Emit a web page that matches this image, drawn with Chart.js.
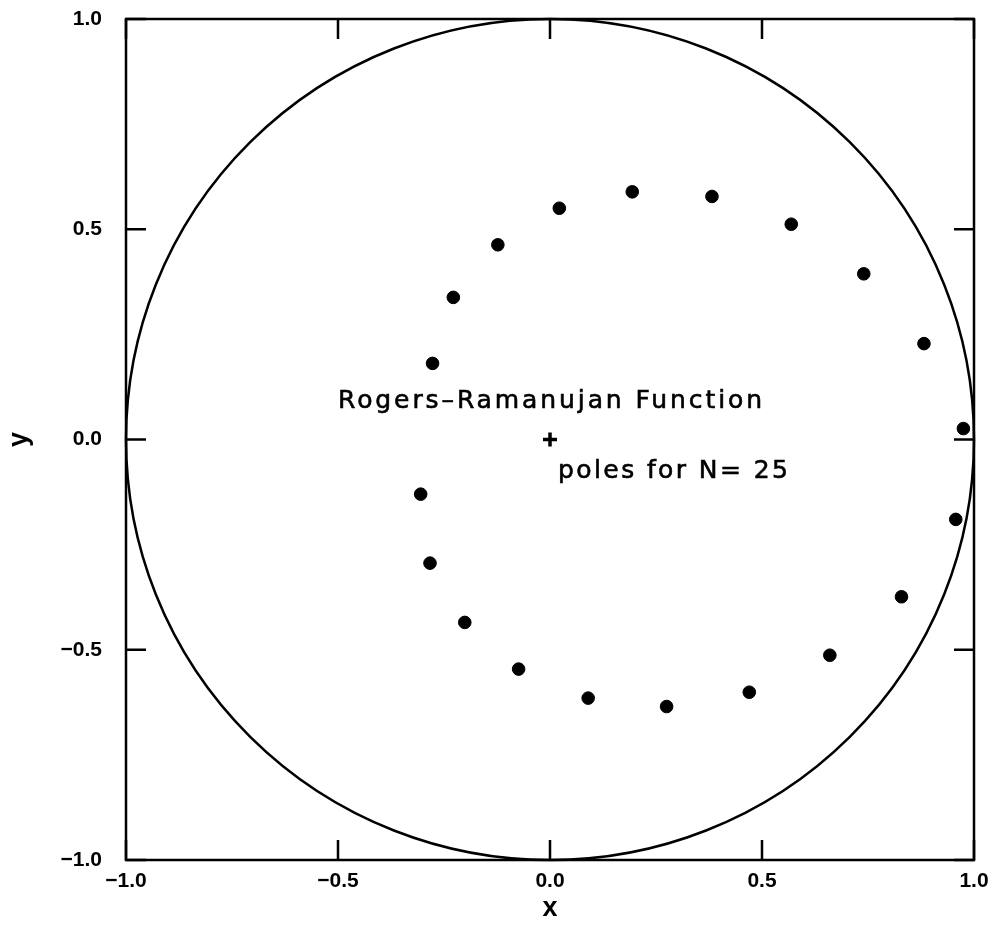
<!DOCTYPE html>
<html lang="en">
<head>
  <meta charset="UTF-8">
  <title>Rogers-Ramanujan Function poles</title>
  <script src="https://cdn.jsdelivr.net/npm/chart.js"></script>
  <style>
    body {
      margin: 0;
      background: #fff;
    }
    .chart-box {
      width: 993px;
      height: 925px;
    }
  </style>
</head>
<body>
  <div class="chart-box"><canvas id="polesChart"></canvas></div>

  <script>
    const poleX = [-0.277, -0.228, -0.123, 0.022, 0.194, 0.382, 0.569, 0.740, 0.882, 0.975,
                   0.957, 0.829, 0.660, 0.470, 0.275, 0.090, -0.074, -0.201, -0.283, -0.305];
    const poleY = [0.181, 0.338, 0.463, 0.550, 0.589, 0.578, 0.512, 0.394, 0.228, 0.026,
                   -0.190, -0.374, -0.513, -0.601, -0.635, -0.615, -0.546, -0.435, -0.294, -0.130];
    const originMark = [{ x: 0, y: 0 }];
    const circleCenter = [0, 0];
    const circleRadius = 1;
    const tickValues = [-1.0, -0.5, 0.0, 0.5, 1.0];
    const noteTexts = ['Rogers\u2013Ramanujan Function', 'poles for N= 25'];

    // where the two notes sit, in data units: left x, baseline y, width
    const notes = [
      { text: noteTexts[0], x: -0.5, y: 0.075, w: 1.0 },
      { text: noteTexts[1], x: 0.019, y: -0.092, w: 0.542 }
    ];

    const tickFont = { family: 'Liberation Sans', size: 21, weight: 'bold' };
    const titleFont = { family: 'Liberation Sans', size: 27, weight: 'bold' };

    const frameAndNotes = {
      id: 'frameAndNotes',
      beforeDatasetsDraw(chart) {
        const { ctx, chartArea: a, scales: { x, y } } = chart;
        ctx.save();
        ctx.strokeStyle = '#000';

        // unit circle
        const cx = x.getPixelForValue(circleCenter[0]);
        const cy = y.getPixelForValue(circleCenter[1]);
        const rx = x.getPixelForValue(circleCenter[0] + circleRadius) - cx;
        const ry = cy - y.getPixelForValue(circleCenter[1] + circleRadius);
        ctx.lineWidth = 2.5;
        ctx.beginPath();
        ctx.ellipse(cx, cy, rx, ry, 0, 0, 2 * Math.PI);
        ctx.stroke();

        // frame
        ctx.strokeRect(a.left, a.top, a.right - a.left, a.bottom - a.top);

        // inward ticks on all four sides
        const len = 20;
        ctx.beginPath();
        x.ticks.forEach(t => {
          const px = x.getPixelForValue(t.value);
          ctx.moveTo(px, a.bottom); ctx.lineTo(px, a.bottom - len);
          ctx.moveTo(px, a.top); ctx.lineTo(px, a.top + len);
        });
        y.ticks.forEach(t => {
          const py = y.getPixelForValue(t.value);
          ctx.moveTo(a.left, py); ctx.lineTo(a.left + len, py);
          ctx.moveTo(a.right, py); ctx.lineTo(a.right - len, py);
        });
        ctx.stroke();

        // text notes, spread to the width seen in the picture
        ctx.fillStyle = '#000';
        ctx.lineWidth = 0.6;
        ctx.font = '25px "DejaVu Sans"';
        ctx.textBaseline = 'alphabetic';
        ctx.textAlign = 'left';
        notes.forEach(n => {
          const left = x.getPixelForValue(n.x);
          const target = x.getPixelForValue(n.x + n.w) - left;
          ctx.letterSpacing = '0px';
          const plain = ctx.measureText(n.text).width;
          const gap = Math.max(0, (target - plain) / (n.text.length - 1));
          ctx.letterSpacing = gap.toFixed(2) + 'px';
          const base = y.getPixelForValue(n.y);
          ctx.fillText(n.text, left, base);
          ctx.strokeText(n.text, left, base);
        });
        ctx.restore();
      }
    };

    const fitWidth = w => scale => { scale.width = w; };
    const fitHeight = h => scale => { scale.height = h; };
    const tickLabel = v => (v < 0 ? '\u2212' : '') + Math.abs(v).toFixed(1);
    const useTicks = s => { s.ticks = tickValues.map(v => ({ value: v })); };

    new Chart(document.getElementById('polesChart'), {
      type: 'scatter',
      data: {
        datasets: [
          {
            label: 'poles',
            data: poleX.map((v, i) => ({ x: v, y: poleY[i] })),
            backgroundColor: '#000',
            borderColor: '#000',
            pointRadius: 6.3,
            pointHoverRadius: 6.3
          },
          {
            label: 'origin',
            data: originMark,
            pointStyle: 'cross',
            borderColor: '#000',
            borderWidth: 3.5,
            pointRadius: 7,
            pointHoverRadius: 7
          }
        ]
      },
      options: {
        responsive: true,
        maintainAspectRatio: false,
        animation: false,
        events: [],
        layout: { padding: { top: 19, right: 19, left: 0, bottom: 0 } },
        plugins: {
          legend: { display: false },
          tooltip: { enabled: false }
        },
        scales: {
          x: {
            type: 'linear',
            position: 'bottom',
            min: -1, max: 1,
            afterFit: fitHeight(65),
            afterBuildTicks: useTicks,
            grid: { display: false, drawTicks: true, tickLength: 9 },
            border: { display: false },
            ticks: { color: '#000', font: tickFont, padding: 0, maxRotation: 0, callback: tickLabel },
            title: { display: true, text: 'x', color: '#000', font: titleFont, padding: { top: 0, bottom: 0 } }
          },
          y: {
            type: 'linear',
            position: 'left',
            min: -1, max: 1,
            afterFit: fitWidth(126),
            afterBuildTicks: useTicks,
            grid: { display: false, drawTicks: true, tickLength: 24 },
            border: { display: false },
            ticks: { color: '#000', font: tickFont, padding: 0, callback: tickLabel },
            title: { display: true, text: 'y', color: '#000', font: titleFont, padding: { top: 3, bottom: 0 } }
          }
        }
      },
      plugins: [frameAndNotes]
    });
  </script>
</body>
</html>
